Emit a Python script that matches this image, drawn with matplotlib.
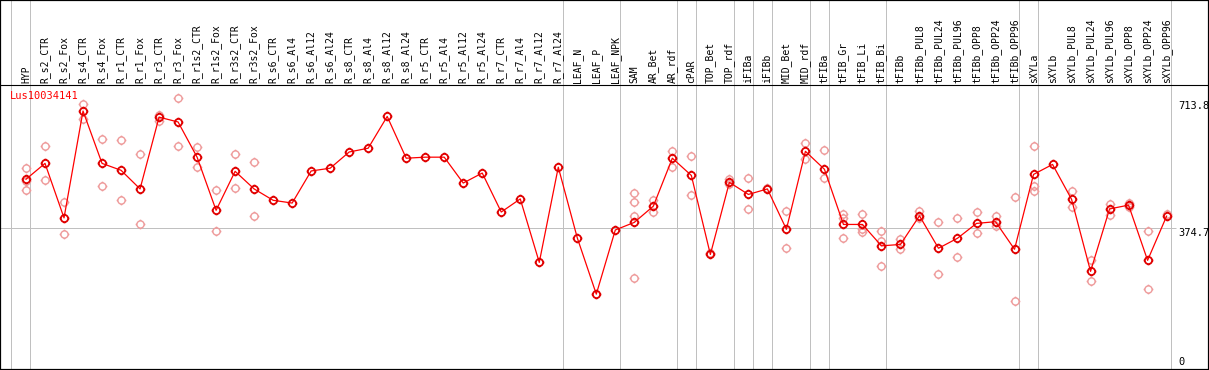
import numpy as np
import matplotlib
matplotlib.use("Agg")
import matplotlib.pyplot as plt
import matplotlib.path as mpath
import matplotlib.transforms as mtransforms

# column labels (top header)
samples = ["HYP", "R_s2_CTR", "R_s2_Fox", "R_s4_CTR", "R_s4_Fox", "R_r1_CTR", "R_r1_Fox",
           "R_r3_CTR", "R_r3_Fox", "R_r1s2_CTR", "R_r1s2_Fox", "R_r3s2_CTR", "R_r3s2_Fox",
           "R_s6_CTR", "R_s6_Al4", "R_s6_Al12", "R_s6_Al24", "R_s8_CTR", "R_s8_Al4",
           "R_s8_Al12", "R_s8_Al24", "R_r5_CTR", "R_r5_Al4", "R_r5_Al12", "R_r5_Al24",
           "R_r7_CTR", "R_r7_Al4", "R_r7_Al12", "R_r7_Al24", "LEAF_N", "LEAF_P", "LEAF_NPK",
           "SAM", "AR_Bet", "AR_rdf", "cPAR", "TOP_Bet", "TOP_rdf", "iFIBa", "iFIBb",
           "MID_Bet", "MID_rdf", "tFIBa", "tFIB_Gr", "tFIB_Li", "tFIB_Bi", "tFIBb",
           "tFIBb_PUL8", "tFIBb_PUL24", "tFIBb_PUL96", "tFIBb_OPP8", "tFIBb_OPP24",
           "tFIBb_OPP96", "sXYLa", "sXYLb", "sXYLb_PUL8", "sXYLb_PUL24", "sXYLb_PUL96",
           "sXYLb_OPP8", "sXYLb_OPP24", "sXYLb_OPP96"]

# mean expression per sample
means = [516, 562, 404, 713.8, 562, 542, 488, 696, 682, 580, 426, 539, 488,
         455, 447, 540, 548, 595, 606, 698, 577, 580, 580, 505, 534,
         421, 459, 275, 551, 346, 183, 369,
         391, 438, 577, 527, 298, 507, 472, 488, 371, 597, 545, 385, 385, 323, 327,
         410, 316, 345, 388, 393, 313, 530, 559, 458, 249, 430, 441, 281, 409]

# individual replicates per sample
replicates = [[548, 511, 485], [612, 514], [450, 356], [734, 691], [632, 496],
              [629, 455], [588, 385], [702, 686], [752, 612], [610, 551],
              [484, 365], [588, 490], [566, 409],
              [], [], [], [], [], [], [], [], [], [], [], [], [], [], [], [],
              [], [], [],
              [477, 450, 409, 229], [456, 421], [598, 552], [583, 470], [303],
              [517, 501], [519, 430], [490], [423, 316], [620, 575], [600, 519],
              [416, 404, 345], [414, 371, 363], [366, 337, 264], [344, 313],
              [424, 403], [391, 241], [403, 290], [421, 359], [409, 380], [465, 163],
              [612, 496, 483], [], [482, 435], [282, 220], [443, 412], [448, 435],
              [365, 197], [415]]

# group separators sit just right of these columns
group_ends = [-1, 0, 28, 31, 34, 35, 37, 38, 39, 41, 42, 45, 52, 53, 60]

gene = "Lus10034141"
scale_labels = [713.8, 374.7, 0]

W, H = 1209, 370
fig = plt.figure(figsize=(W / 100, H / 100), dpi=100)
ax = fig.add_axes([0, 0, 1, 1])

# pixel layout: column i at x = 26 + 19.01*i, value v at y = 228 - (v-374.7)*0.345
step, x0 = 19.01, 26.0
ys = 0.345
ax.set_xlim(-x0 / step, (W - x0) / step)
ax.set_ylim(374.7 - (H - 228) / ys, 374.7 + 228 / ys)
ax.set_xticks([])
ax.set_yticks([])
for sp in ax.spines.values():
    sp.set_linewidth(1.6)
    sp.set_color("black")

px = 0.72  # one pixel in points
xs = np.arange(len(samples))

# vertical group lines
ax.vlines(np.array(group_ends) + 0.23, *ax.get_ylim(), colors="#c0c0c0", lw=px, zorder=1)
# horizontal reference line
ax.hlines(scale_labels[1], ax.get_xlim()[0], 60.5, colors="#c0c0c0", lw=px, zorder=1)

# header separator
hdr_y = 1 - 85 / H
ax.axhline(ax.get_ylim()[0] + hdr_y * (ax.get_ylim()[1] - ax.get_ylim()[0]),
           color="black", lw=px * 1.1, zorder=3)

# marker: circle with small ticks
circ = mpath.Path.unit_circle()
tick_paths = [mpath.Path([(0, 1), (0, 1.35)], [1, 2]), mpath.Path([(0, -1), (0, -1.35)], [1, 2]),
              mpath.Path([(1, 0), (1.35, 0)], [1, 2]), mpath.Path([(-1, 0), (-1.35, 0)], [1, 2])]
mark = mpath.Path.make_compound_path(circ, *tick_paths)

rx, ry = [], []
for i, reps in enumerate(replicates):
    rx += [i] * len(reps)
    ry += reps
ax.plot(rx, ry, linestyle="none", marker=mark, markersize=7.0, markerfacecolor="none",
        markeredgecolor="#ee9a9a", markeredgewidth=1.0, zorder=2)

ax.plot(xs, means, color="#ff0000", lw=0.9, zorder=4)
ax.plot(xs, means, linestyle="none", marker=mark, markersize=7.0, markerfacecolor="none",
        markeredgecolor="#e00000", markeredgewidth=1.3, zorder=5)

mono = "DejaVu Sans Mono"
trans = mtransforms.blended_transform_factory(ax.transData, fig.transFigure)
for i, s in enumerate(samples):
    ax.text(i, 1 - 83 / H, s, transform=trans, rotation=90, ha="center", va="bottom",
            fontsize=7, family=mono, color="black")

ax.text(10 / W, 1 - 91 / H, gene, transform=fig.transFigure, ha="left", va="top",
        fontsize=7.5, family=mono, color="#ff0000")

lab_x = (1178 - x0) / step
ax.text(lab_x, scale_labels[0], "713.8", ha="left", va="bottom", fontsize=7.5, family=mono)
ax.text(lab_x, scale_labels[1], "374.7", ha="left", va="top", fontsize=7.5, family=mono)
ax.text(lab_x, scale_labels[2], "0", ha="left", va="top", fontsize=7.5, family=mono)

fig.savefig("out.png", dpi=100)
